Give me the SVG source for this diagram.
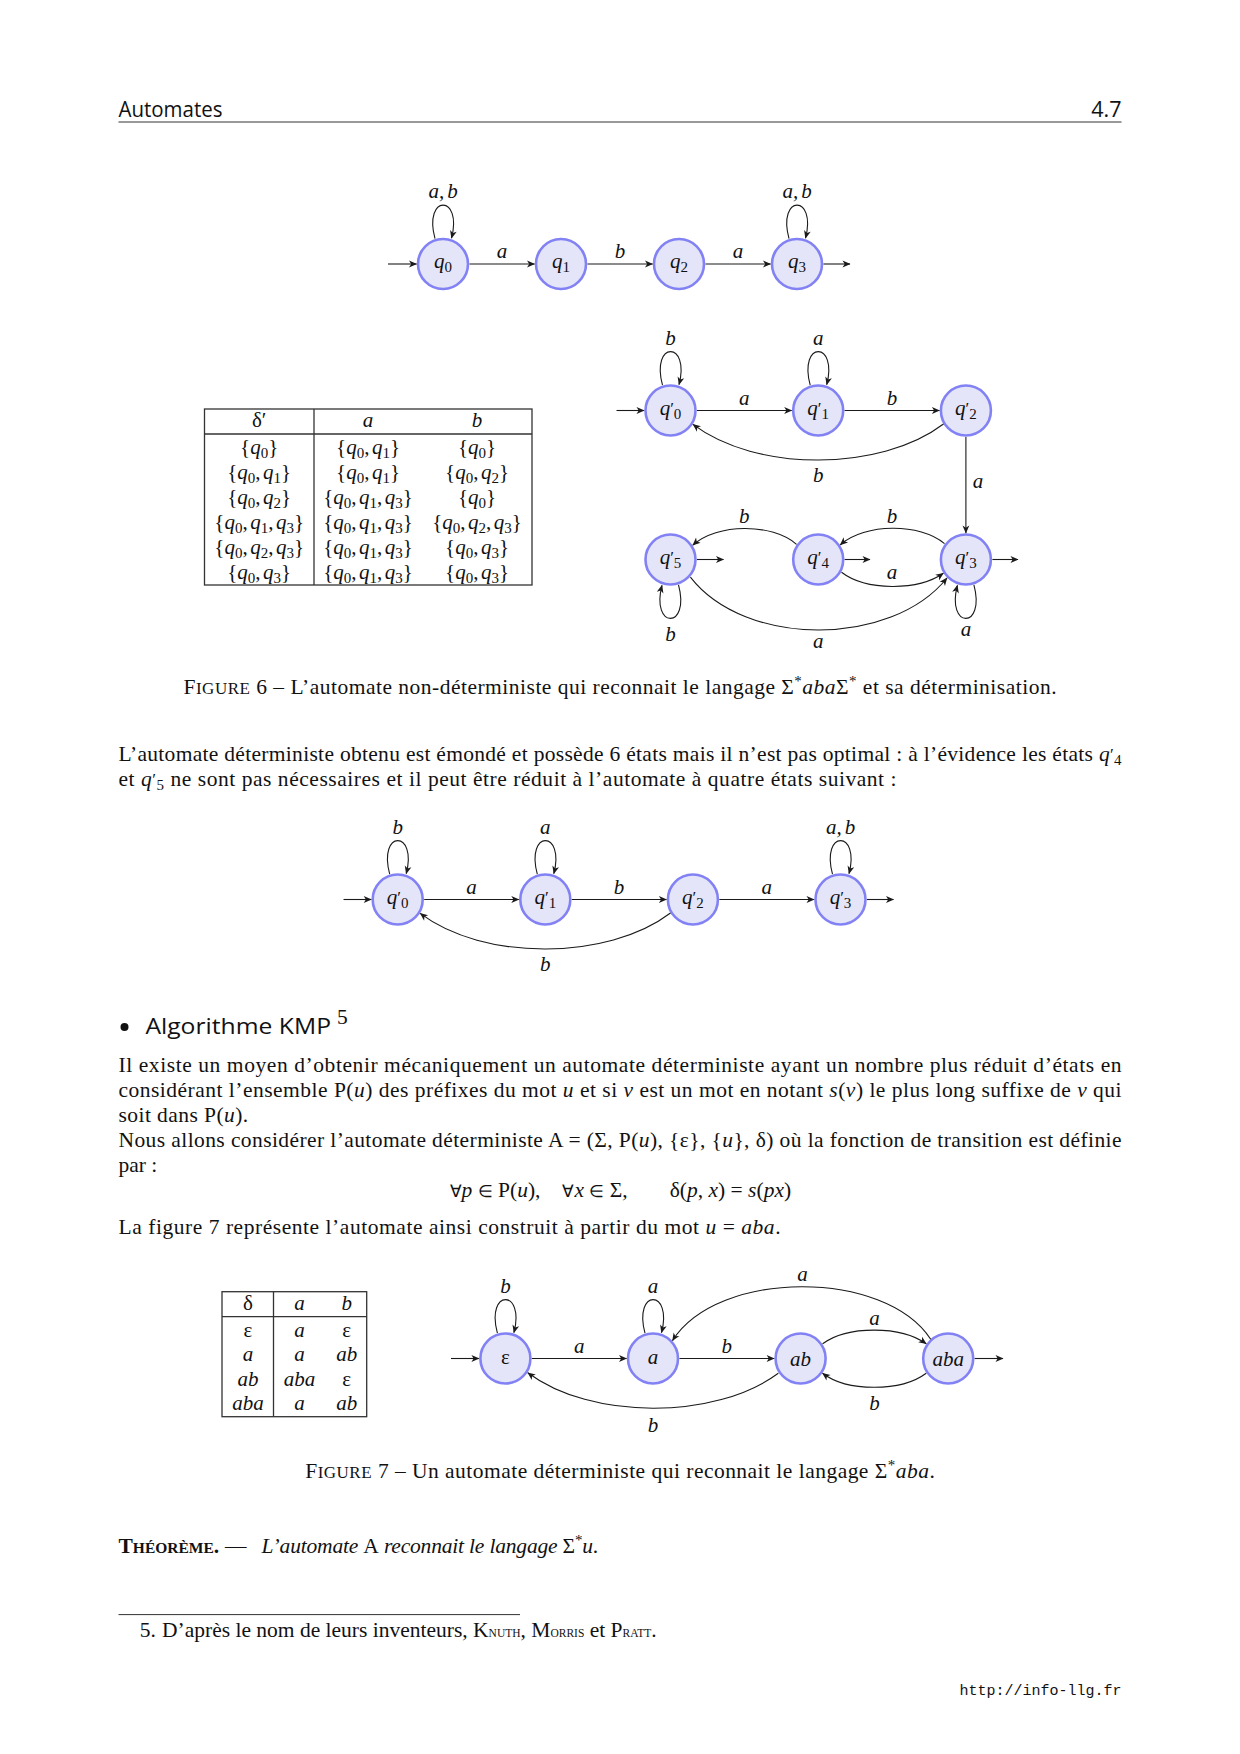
<svg xmlns="http://www.w3.org/2000/svg" width="1240" height="1754" viewBox="0 0 1240 1754">
<defs>
<style>
text { font-family: "Liberation Serif", "Times New Roman", serif; font-size: 21.5px; fill: #111; }
.sans { font-family: "Open Sans", "Liberation Sans", sans-serif; }
.mono { font-family: "Liberation Mono", "DejaVu Sans Mono", monospace; font-size: 15px; }
.i { font-style: italic; }
.s { font-size: 15px; }
.p { font-size: 17px; }
.sc { font-size: 17px; }
.sy { font-size: 17px; }
.lab { font-size: 21px; }
.nd circle { fill: #e5e5fa; stroke: #8282f5; stroke-width: 2.6; }
.e path { fill: none; stroke: #1a1a1a; stroke-width: 1.1; marker-end: url(#ar); }
.tb { fill: none; stroke: #333; stroke-width: 1.3; }
</style>
<marker id="ar" markerUnits="userSpaceOnUse" viewBox="-9 -5 10 10" markerWidth="10" markerHeight="10" refX="0" refY="0" orient="auto">
<path d="M0.5,0 L-7.5,-3.4 L-5.3,0 L-7.5,3.4 Z" fill="#1a1a1a"/>
</marker>
</defs>
<rect x="0" y="0" width="1240" height="1754" fill="#fff"/>

<!-- header -->
<g id="header">
<text class="sans" x="118.5" y="117" font-size="19" textLength="104" lengthAdjust="spacingAndGlyphs">Automates</text>
<text class="sans" x="1121.5" y="117" font-size="19" text-anchor="end">4.7</text>
<line x1="118.5" y1="122" x2="1121.5" y2="122" stroke="#333" stroke-width="1"/>
</g>

<!-- ===== Figure 6 top automaton ===== -->
<g id="n-q0" class="nd"><circle cx="443" cy="264" r="25"/><text class="lab" x="443" y="267.5" text-anchor="middle"><tspan class="i">q</tspan><tspan class="s" dy="4">0</tspan></text></g>
<g id="n-q1" class="nd"><circle cx="561" cy="264" r="25"/><text class="lab" x="561" y="267.5" text-anchor="middle"><tspan class="i">q</tspan><tspan class="s" dy="4">1</tspan></text></g>
<g id="n-q2" class="nd"><circle cx="679" cy="264" r="25"/><text class="lab" x="679" y="267.5" text-anchor="middle"><tspan class="i">q</tspan><tspan class="s" dy="4">2</tspan></text></g>
<g id="n-q3" class="nd"><circle cx="797" cy="264" r="25"/><text class="lab" x="797" y="267.5" text-anchor="middle"><tspan class="i">q</tspan><tspan class="s" dy="4">3</tspan></text></g>
<g id="c-top" class="e">
<path d="M388,264H416.5"/>
<path d="M469.5,264H534.5"/>
<path d="M587.5,264H652.5"/>
<path d="M705.5,264H770.5"/>
<path d="M823.5,264H850"/>
<path d="M435,238.7 C423,194 463,194 451.5,238.2"/>
<path d="M789,238.7 C777,194 817,194 805.5,238.2"/>
<text class="lab i" x="502" y="258" text-anchor="middle">a</text>
<text class="lab i" x="620" y="258" text-anchor="middle">b</text>
<text class="lab i" x="738" y="258" text-anchor="middle">a</text>
<text class="lab i" x="443" y="197.5" text-anchor="middle">a,<tspan dx="3">b</tspan></text>
<text class="lab i" x="797" y="197.5" text-anchor="middle">a,<tspan dx="3">b</tspan></text>
</g>

<!-- ===== Figure 6 table ===== -->
<g id="table6">
<rect class="tb" x="204.5" y="409" width="327.5" height="176"/>
<line class="tb" x1="204.5" y1="434" x2="532" y2="434"/>
<line class="tb" x1="314" y1="409" x2="314" y2="585"/>
<g class="lab" text-anchor="middle">
<text class="lab" x="259.2" y="427">δ′</text>
<text class="lab i" x="368" y="427">a</text>
<text class="lab i" x="477" y="427">b</text>

<text class="lab" x="259.2" y="453.5">{<tspan class="i">q</tspan><tspan class="s" dy="4">0</tspan><tspan dy="-4">}</tspan></text>
<text class="lab" x="368" y="453.5">{<tspan class="i">q</tspan><tspan class="s" dy="4">0</tspan><tspan dy="-4">,</tspan><tspan class="i" dx="2.5">q</tspan><tspan class="s" dy="4">1</tspan><tspan dy="-4">}</tspan></text>
<text class="lab" x="477" y="453.5">{<tspan class="i">q</tspan><tspan class="s" dy="4">0</tspan><tspan dy="-4">}</tspan></text>

<text class="lab" x="259.2" y="478.5">{<tspan class="i">q</tspan><tspan class="s" dy="4">0</tspan><tspan dy="-4">,</tspan><tspan class="i" dx="2.5">q</tspan><tspan class="s" dy="4">1</tspan><tspan dy="-4">}</tspan></text>
<text class="lab" x="368" y="478.5">{<tspan class="i">q</tspan><tspan class="s" dy="4">0</tspan><tspan dy="-4">,</tspan><tspan class="i" dx="2.5">q</tspan><tspan class="s" dy="4">1</tspan><tspan dy="-4">}</tspan></text>
<text class="lab" x="477" y="478.5">{<tspan class="i">q</tspan><tspan class="s" dy="4">0</tspan><tspan dy="-4">,</tspan><tspan class="i" dx="2.5">q</tspan><tspan class="s" dy="4">2</tspan><tspan dy="-4">}</tspan></text>

<text class="lab" x="259.2" y="503.5">{<tspan class="i">q</tspan><tspan class="s" dy="4">0</tspan><tspan dy="-4">,</tspan><tspan class="i" dx="2.5">q</tspan><tspan class="s" dy="4">2</tspan><tspan dy="-4">}</tspan></text>
<text class="lab" x="368" y="503.5">{<tspan class="i">q</tspan><tspan class="s" dy="4">0</tspan><tspan dy="-4">,</tspan><tspan class="i" dx="2.5">q</tspan><tspan class="s" dy="4">1</tspan><tspan dy="-4">,</tspan><tspan class="i" dx="2.5">q</tspan><tspan class="s" dy="4">3</tspan><tspan dy="-4">}</tspan></text>
<text class="lab" x="477" y="503.5">{<tspan class="i">q</tspan><tspan class="s" dy="4">0</tspan><tspan dy="-4">}</tspan></text>

<text class="lab" x="259.2" y="528.5">{<tspan class="i">q</tspan><tspan class="s" dy="4">0</tspan><tspan dy="-4">,</tspan><tspan class="i" dx="2.5">q</tspan><tspan class="s" dy="4">1</tspan><tspan dy="-4">,</tspan><tspan class="i" dx="2.5">q</tspan><tspan class="s" dy="4">3</tspan><tspan dy="-4">}</tspan></text>
<text class="lab" x="368" y="528.5">{<tspan class="i">q</tspan><tspan class="s" dy="4">0</tspan><tspan dy="-4">,</tspan><tspan class="i" dx="2.5">q</tspan><tspan class="s" dy="4">1</tspan><tspan dy="-4">,</tspan><tspan class="i" dx="2.5">q</tspan><tspan class="s" dy="4">3</tspan><tspan dy="-4">}</tspan></text>
<text class="lab" x="477" y="528.5">{<tspan class="i">q</tspan><tspan class="s" dy="4">0</tspan><tspan dy="-4">,</tspan><tspan class="i" dx="2.5">q</tspan><tspan class="s" dy="4">2</tspan><tspan dy="-4">,</tspan><tspan class="i" dx="2.5">q</tspan><tspan class="s" dy="4">3</tspan><tspan dy="-4">}</tspan></text>

<text class="lab" x="259.2" y="553.5">{<tspan class="i">q</tspan><tspan class="s" dy="4">0</tspan><tspan dy="-4">,</tspan><tspan class="i" dx="2.5">q</tspan><tspan class="s" dy="4">2</tspan><tspan dy="-4">,</tspan><tspan class="i" dx="2.5">q</tspan><tspan class="s" dy="4">3</tspan><tspan dy="-4">}</tspan></text>
<text class="lab" x="368" y="553.5">{<tspan class="i">q</tspan><tspan class="s" dy="4">0</tspan><tspan dy="-4">,</tspan><tspan class="i" dx="2.5">q</tspan><tspan class="s" dy="4">1</tspan><tspan dy="-4">,</tspan><tspan class="i" dx="2.5">q</tspan><tspan class="s" dy="4">3</tspan><tspan dy="-4">}</tspan></text>
<text class="lab" x="477" y="553.5">{<tspan class="i">q</tspan><tspan class="s" dy="4">0</tspan><tspan dy="-4">,</tspan><tspan class="i" dx="2.5">q</tspan><tspan class="s" dy="4">3</tspan><tspan dy="-4">}</tspan></text>

<text class="lab" x="259.2" y="578.5">{<tspan class="i">q</tspan><tspan class="s" dy="4">0</tspan><tspan dy="-4">,</tspan><tspan class="i" dx="2.5">q</tspan><tspan class="s" dy="4">3</tspan><tspan dy="-4">}</tspan></text>
<text class="lab" x="368" y="578.5">{<tspan class="i">q</tspan><tspan class="s" dy="4">0</tspan><tspan dy="-4">,</tspan><tspan class="i" dx="2.5">q</tspan><tspan class="s" dy="4">1</tspan><tspan dy="-4">,</tspan><tspan class="i" dx="2.5">q</tspan><tspan class="s" dy="4">3</tspan><tspan dy="-4">}</tspan></text>
<text class="lab" x="477" y="578.5">{<tspan class="i">q</tspan><tspan class="s" dy="4">0</tspan><tspan dy="-4">,</tspan><tspan class="i" dx="2.5">q</tspan><tspan class="s" dy="4">3</tspan><tspan dy="-4">}</tspan></text>
</g>
</g>

<!-- ===== Figure 6 deterministic automaton ===== -->
<g id="n-d0" class="nd"><circle cx="670.5" cy="410.5" r="25"/><text class="lab" x="670.5" y="414.5" text-anchor="middle"><tspan class="i">q</tspan><tspan class="p" dy="-1">′</tspan><tspan class="s" dy="5">0</tspan></text></g>
<g id="n-d1" class="nd"><circle cx="818.2" cy="410.5" r="25"/><text class="lab" x="818.2" y="414.5" text-anchor="middle"><tspan class="i">q</tspan><tspan class="p" dy="-1">′</tspan><tspan class="s" dy="5">1</tspan></text></g>
<g id="n-d2" class="nd"><circle cx="965.9" cy="410.5" r="25"/><text class="lab" x="965.9" y="414.5" text-anchor="middle"><tspan class="i">q</tspan><tspan class="p" dy="-1">′</tspan><tspan class="s" dy="5">2</tspan></text></g>
<g id="n-d5" class="nd"><circle cx="670.5" cy="559.5" r="25"/><text class="lab" x="670.5" y="563.5" text-anchor="middle"><tspan class="i">q</tspan><tspan class="p" dy="-1">′</tspan><tspan class="s" dy="5">5</tspan></text></g>
<g id="n-d4" class="nd"><circle cx="818.2" cy="559.5" r="25"/><text class="lab" x="818.2" y="563.5" text-anchor="middle"><tspan class="i">q</tspan><tspan class="p" dy="-1">′</tspan><tspan class="s" dy="5">4</tspan></text></g>
<g id="n-d3" class="nd"><circle cx="965.9" cy="559.5" r="25"/><text class="lab" x="965.9" y="563.5" text-anchor="middle"><tspan class="i">q</tspan><tspan class="p" dy="-1">′</tspan><tspan class="s" dy="5">3</tspan></text></g>
<g id="c-det6" class="e">
<path d="M616.5,410.5H644"/>
<path d="M697,410.5H791.7"/>
<path d="M844.7,410.5H939.4"/>
<path d="M943.5,424 C880,472 756,472 693,424.4"/>
<path d="M965.9,437V533"/>
<path d="M944.5,543.6 C920,523 865,523 840.2,544.8"/>
<path d="M796.5,544.3 C772,523 717,523 692.8,545.2"/>
<path d="M841.5,572.3 C866,591 918,591 943.3,573.3"/>
<path d="M690.4,577.1 C745,647.5 891,647.5 947,578"/>
<path d="M697,559.5H723.5"/>
<path d="M844.7,559.5H870"/>
<path d="M992.4,559.5H1018"/>
<path d="M662.5,385.2 C650.5,340.5 690.5,340.5 679,384.7"/>
<path d="M810.2,385.2 C798.2,340.5 838.2,340.5 826.7,384.7"/>
<path d="M678.5,584.8 C690.5,629.5 650.5,629.5 662,585.3"/>
<path d="M973.9,584.8 C985.9,629.5 945.9,629.5 957.4,585.3"/>
<text class="lab i" x="744.3" y="404.5" text-anchor="middle">a</text>
<text class="lab i" x="892" y="404.5" text-anchor="middle">b</text>
<text class="lab i" x="670.5" y="345" text-anchor="middle">b</text>
<text class="lab i" x="818.2" y="345" text-anchor="middle">a</text>
<text class="lab i" x="818.2" y="481.5" text-anchor="middle">b</text>
<text class="lab i" x="978" y="488" text-anchor="middle">a</text>
<text class="lab i" x="892" y="523" text-anchor="middle">b</text>
<text class="lab i" x="744.3" y="523" text-anchor="middle">b</text>
<text class="lab i" x="892" y="579" text-anchor="middle">a</text>
<text class="lab i" x="818.2" y="648" text-anchor="middle">a</text>
<text class="lab i" x="670.5" y="640.5" text-anchor="middle">b</text>
<text class="lab i" x="965.9" y="635.5" text-anchor="middle">a</text>
</g>

<text x="620" y="693.5" text-anchor="middle" textLength="873" lengthAdjust="spacing">F<tspan class="sc">IGURE</tspan> 6 – L’automate non-déterministe qui reconnait le langage Σ<tspan class="s" dy="-8">*</tspan><tspan class="i" dy="8">aba</tspan>Σ<tspan class="s" dy="-8">*</tspan><tspan dy="8"> et sa déterminisation.</tspan></text>

<text x="118.5" y="760.5" textLength="1003" lengthAdjust="spacing">L’automate déterministe obtenu est émondé et possède 6 états mais il n’est pas optimal : à l’évidence les états <tspan class="i">q</tspan><tspan class="p" dy="-1">′</tspan><tspan class="s" dy="5">4</tspan></text>
<text x="118.5" y="785.5" textLength="778" lengthAdjust="spacing">et <tspan class="i">q</tspan><tspan class="p" dy="-1">′</tspan><tspan class="s" dy="5">5</tspan><tspan dy="-4"> ne sont pas nécessaires et il peut être réduit à l’automate à quatre états suivant :</tspan></text>

<!-- ===== minimal automaton ===== -->
<g id="n-m0" class="nd"><circle cx="397.7" cy="899.5" r="25"/><text class="lab" x="397.7" y="903.5" text-anchor="middle"><tspan class="i">q</tspan><tspan class="p" dy="-1">′</tspan><tspan class="s" dy="5">0</tspan></text></g>
<g id="n-m1" class="nd"><circle cx="545.3" cy="899.5" r="25"/><text class="lab" x="545.3" y="903.5" text-anchor="middle"><tspan class="i">q</tspan><tspan class="p" dy="-1">′</tspan><tspan class="s" dy="5">1</tspan></text></g>
<g id="n-m2" class="nd"><circle cx="692.9" cy="899.5" r="25"/><text class="lab" x="692.9" y="903.5" text-anchor="middle"><tspan class="i">q</tspan><tspan class="p" dy="-1">′</tspan><tspan class="s" dy="5">2</tspan></text></g>
<g id="n-m3" class="nd"><circle cx="840.5" cy="899.5" r="25"/><text class="lab" x="840.5" y="903.5" text-anchor="middle"><tspan class="i">q</tspan><tspan class="p" dy="-1">′</tspan><tspan class="s" dy="5">3</tspan></text></g>
<g id="c-min" class="e">
<path d="M343.5,899.5H371.2"/>
<path d="M424.2,899.5H518.8"/>
<path d="M571.8,899.5H666.4"/>
<path d="M719.4,899.5H814"/>
<path d="M867,899.5H893.5"/>
<path d="M670.5,913 C607,961 483.2,961 420.2,913.4"/>
<path d="M389.7,874.2 C377.7,829.5 417.7,829.5 406.2,873.7"/>
<path d="M537.3,874.2 C525.3,829.5 565.3,829.5 553.8,873.7"/>
<path d="M832.5,874.2 C820.5,829.5 860.5,829.5 849,873.7"/>
<text class="lab i" x="471.5" y="893.5" text-anchor="middle">a</text>
<text class="lab i" x="619.1" y="893.5" text-anchor="middle">b</text>
<text class="lab i" x="766.7" y="893.5" text-anchor="middle">a</text>
<text class="lab i" x="397.7" y="834" text-anchor="middle">b</text>
<text class="lab i" x="545.3" y="834" text-anchor="middle">a</text>
<text class="lab i" x="840.5" y="834" text-anchor="middle">a,<tspan dx="3">b</tspan></text>
<text class="lab i" x="545.3" y="970.5" text-anchor="middle">b</text>
</g>

<!-- ===== KMP section ===== -->
<circle cx="124.5" cy="1027" r="4" fill="#111"/>
<text class="sans" x="145.4" y="1034" font-size="23" textLength="185.6" lengthAdjust="spacingAndGlyphs">Algorithme KMP</text>
<text x="337" y="1024" font-size="15">5</text>

<text x="118.5" y="1071.5" textLength="1003" lengthAdjust="spacing">Il existe un moyen d’obtenir mécaniquement un automate déterministe ayant un nombre plus réduit d’états en</text>
<text x="118.5" y="1096.5" textLength="1003" lengthAdjust="spacing">considérant l’ensemble P(<tspan class="i">u</tspan>) des préfixes du mot <tspan class="i">u</tspan> et si <tspan class="i">v</tspan> est un mot en notant <tspan class="i">s</tspan>(<tspan class="i">v</tspan>) le plus long suffixe de <tspan class="i">v</tspan> qui</text>
<text x="118.5" y="1121.5" textLength="129.7" lengthAdjust="spacing">soit dans P(<tspan class="i">u</tspan>).</text>
<text x="118.5" y="1146.5" textLength="1003" lengthAdjust="spacing">Nous allons considérer l’automate déterministe A = (Σ, P(<tspan class="i">u</tspan>), {ε}, {<tspan class="i">u</tspan>}, δ) où la fonction de transition est définie</text>
<text x="118.5" y="1171.5">par :</text>
<text x="449.5" y="1197"><tspan class="sy">∀</tspan><tspan class="i">p</tspan> <tspan class="sy">∈</tspan> P(<tspan class="i">u</tspan>),</text>
<text x="562.4" y="1197"><tspan class="sy">∀</tspan><tspan class="i">x</tspan> <tspan class="sy">∈</tspan> Σ,</text>
<text x="669.7" y="1197">δ(<tspan class="i">p</tspan>, <tspan class="i">x</tspan>) = <tspan class="i">s</tspan>(<tspan class="i">px</tspan>)</text>
<text x="118.5" y="1233.5" textLength="662" lengthAdjust="spacing">La figure 7 représente l’automate ainsi construit à partir du mot <tspan class="i">u</tspan> = <tspan class="i">aba</tspan>.</text>

<!-- ===== Figure 7 table ===== -->
<g id="table7">
<rect class="tb" x="222" y="1291.7" width="144.7" height="125"/>
<line class="tb" x1="222" y1="1316.7" x2="366.7" y2="1316.7"/>
<line class="tb" x1="273.5" y1="1291.7" x2="273.5" y2="1416.7"/>
<g text-anchor="middle">
<text class="lab" x="248" y="1310">δ</text>
<text class="lab i" x="299.5" y="1310">a</text>
<text class="lab i" x="346.7" y="1310">b</text>
<text class="lab" x="248" y="1336.5">ε</text>
<text class="lab i" x="299.5" y="1336.5">a</text>
<text class="lab" x="346.7" y="1336.5">ε</text>
<text class="lab i" x="248" y="1361">a</text>
<text class="lab i" x="299.5" y="1361">a</text>
<text class="lab i" x="346.7" y="1361">ab</text>
<text class="lab i" x="248" y="1385.5">ab</text>
<text class="lab i" x="299.5" y="1385.5">aba</text>
<text class="lab" x="346.7" y="1385.5">ε</text>
<text class="lab i" x="248" y="1410">aba</text>
<text class="lab i" x="299.5" y="1410">a</text>
<text class="lab i" x="346.7" y="1410">ab</text>
</g>
</g>

<!-- ===== Figure 7 automaton ===== -->
<g id="n-eps" class="nd"><circle cx="505.4" cy="1358.5" r="25"/><text class="lab" x="505.4" y="1363.5" text-anchor="middle">ε</text></g>
<g id="n-a" class="nd"><circle cx="653" cy="1358.5" r="25"/><text class="lab i" x="653" y="1363.5" text-anchor="middle">a</text></g>
<g id="n-ab" class="nd"><circle cx="800.6" cy="1358.5" r="25"/><text class="lab i" x="800.6" y="1365.5" text-anchor="middle">ab</text></g>
<g id="n-aba" class="nd"><circle cx="948.2" cy="1358.5" r="25"/><text class="lab i" x="948.2" y="1365.5" text-anchor="middle">aba</text></g>
<g id="c-fig7" class="e">
<path d="M451,1358.5H478.9"/>
<path d="M531.9,1358.5H626.5"/>
<path d="M679.5,1358.5H774.1"/>
<path d="M822.6,1343.8 C847,1325.5 901,1325.5 926.2,1343.8"/>
<path d="M926.2,1373.2 C901,1392 847,1392 822.6,1373.2"/>
<path d="M930.7,1339.3 C885,1269 718,1269 672.5,1340.6"/>
<path d="M778.3,1373.3 C715,1420 591,1420 527.8,1372.7"/>
<path d="M974.7,1358.5H1003"/>
<path d="M497.4,1333.2 C485.4,1288.5 525.4,1288.5 513.9,1332.7"/>
<path d="M645,1333.2 C633,1288.5 673,1288.5 661.5,1332.7"/>
<text class="lab i" x="579.2" y="1352.5" text-anchor="middle">a</text>
<text class="lab i" x="726.8" y="1352.5" text-anchor="middle">b</text>
<text class="lab i" x="505.4" y="1293" text-anchor="middle">b</text>
<text class="lab i" x="653" y="1293" text-anchor="middle">a</text>
<text class="lab i" x="874.4" y="1325" text-anchor="middle">a</text>
<text class="lab i" x="874.4" y="1410" text-anchor="middle">b</text>
<text class="lab i" x="802.5" y="1281" text-anchor="middle">a</text>
<text class="lab i" x="653" y="1431.5" text-anchor="middle">b</text>
</g>

<text x="620" y="1477.5" text-anchor="middle" textLength="629.5" lengthAdjust="spacing">F<tspan class="sc">IGURE</tspan> 7 – Un automate déterministe qui reconnait le langage Σ<tspan class="s" dy="-8">*</tspan><tspan class="i" dy="8">aba</tspan>.</text>

<text x="118.5" y="1552.5" font-weight="bold">T<tspan font-size="15.5">HÉORÈME</tspan>.</text>
<text x="225" y="1552.5">—</text>
<text x="261.6" y="1552.5" textLength="336.6" lengthAdjust="spacing"><tspan class="i">L’automate </tspan>A<tspan class="i"> reconnait le langage </tspan>Σ<tspan class="s" dy="-8">*</tspan><tspan class="i" dy="8">u</tspan>.</text>

<!-- footnote -->
<line x1="118.5" y1="1614.6" x2="520" y2="1614.6" stroke="#333" stroke-width="1"/>
<text x="139.8" y="1637" font-size="15.5">5.</text>
<text x="162" y="1637" font-size="14.2">D’après le nom de leurs inventeurs, K<tspan font-size="11.5">NUTH</tspan>, M<tspan font-size="11.5">ORRIS</tspan> et P<tspan font-size="11.5">RATT</tspan>.</text>

<text class="mono" x="1121.5" y="1695" text-anchor="end">http://info-llg.fr</text>
</svg>
